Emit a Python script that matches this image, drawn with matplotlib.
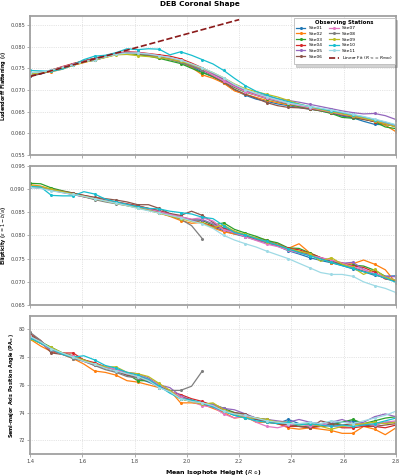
import numpy as np
import matplotlib
matplotlib.use("Agg")
import matplotlib.pyplot as plt

# ---------------- data ----------------
heights = [1.400, 1.441, 1.482, 1.524, 1.565, 1.606, 1.647, 1.688, 1.729, 1.771,
           1.812, 1.853, 1.894, 1.935, 1.976, 2.018, 2.059, 2.100, 2.141, 2.182,
           2.224, 2.265, 2.306, 2.347, 2.388, 2.429, 2.471, 2.512, 2.553, 2.594,
           2.635, 2.676, 2.718, 2.759, 2.800]

sites = ["Site01", "Site02", "Site03", "Site04", "Site05", "Site06",
         "Site07", "Site08", "Site09", "Site10", "Site11"]

flattening = {
    "Site01": [.0733,.0737,.0744,.0751,.0758,.0765,.0768,.0776,.0782,.0787,.0785,.0782,.0776,.0771,.0764,.0753,.0742,.0730,.0716,.0700,.0688,.0679,.0674,.0668,.0664,.0660,.0656,.0652,.0647,.0640,.0636,.0628,.0621,.0620,.0618],
    "Site02": [.0740,.0741,.0742,.0748,.0757,.0763,.0770,.0775,.0782,.0784,.0782,.0779,.0774,.0771,.0766,.0752,.0735,.0727,.0716,.0698,.0690,.0683,.0676,.0671,.0666,.0662,.0657,.0652,.0650,.0645,.0640,.0636,.0628,.0619,.0604],
    "Site03": [.0736,.0739,.0746,.0753,.0760,.0767,.0772,.0778,.0784,.0785,.0782,.0778,.0773,.0767,.0761,.0750,.0740,.0731,.0719,.0706,.0695,.0688,.0680,.0674,.0668,.0662,.0657,.0652,.0646,.0637,.0635,.0633,.0627,.0615,.0611],
    "Site04": [.0734,.0738,.0746,.0754,.0761,.0767,.0773,.0779,.0785,.0788,.0787,.0784,.0781,.0778,.0772,.0762,.0751,.0738,.0725,.0709,.0697,.0689,.0682,.0676,.0670,.0665,.0660,.0655,.0650,.0645,.0639,.0634,.0627,.0623,.0615],
    "Site05": [.0735,.0739,.0745,.0752,.0759,.0766,.0772,.0778,.0783,.0786,.0785,.0782,.0778,.0773,.0767,.0758,.0749,.0737,.0724,.0710,.0699,.0692,.0686,.0680,.0676,.0672,.0667,.0662,.0657,.0652,.0648,.0645,.0646,.0641,.0632],
    "Site06": [.0732,.0737,.0745,.0752,.0760,.0767,.0773,.0779,.0784,.0787,.0784,.0780,.0776,.0771,.0765,.0755,.0746,.0733,.0718,.0702,.0690,.0681,.0671,.0664,.0660,.0659,.0656,.0653,.0648,.0642,.0638,.0632,.0628,.0622,.0616],
    "Site07": [.0738,.0741,.0745,.0753,.0759,.0766,.0771,.0777,.0784,.0787,.0786,.0783,.0779,.0774,.0768,.0759,.0748,.0734,.0721,.0708,.0696,.0688,.0681,.0675,.0669,.0664,.0659,.0654,.0649,.0644,.0640,.0635,.0629,.0624,.0617],
    "Site08": [.0736,.0740,.0745,.0751,.0758,.0765,.0770,.0776,.0782,.0786,.0784,.0781,.0776,.0770,.0764,.0755,.0746],
    "Site09": [.0737,.0740,.0744,.0750,.0757,.0764,.0769,.0775,.0781,.0782,.0779,.0777,.0775,.0771,.0766,.0759,.0750,.0740,.0728,.0714,.0703,.0696,.0690,.0684,.0676,.0668,.0661,.0655,.0650,.0645,.0640,.0635,.0629,.0622,.0615],
    "Site10": [.0745,.0744,.0743,.0748,.0758,.0770,.0778,.0780,.0786,.0795,.0793,.0795,.0794,.0781,.0788,.0780,.0770,.0760,.0745,.0727,.0710,.0697,.0688,.0680,.0673,.0667,.0662,.0657,.0652,.0648,.0643,.0638,.0632,.0626,.0619],
    "Site11": [.0740,.0741,.0746,.0752,.0758,.0765,.0770,.0776,.0782,.0785,.0785,.0783,.0779,.0775,.0769,.0760,.0751,.0740,.0728,.0713,.0701,.0692,.0684,.0677,.0670,.0666,.0662,.0658,.0654,.0649,.0644,.0639,.0633,.0627,.0620],
}

ellipticity = {
    "Site01": [.0905,.0903,.0898,.0893,.0889,.0885,.0880,.0876,.0871,.0866,.0861,.0857,.0852,.0846,.0840,.0832,.0827,.0818,.0810,.0803,.0797,.0790,.0784,.0777,.0767,.0760,.0752,.0746,.0741,.0735,.0728,.0722,.0714,.0712,.0713],
    "Site02": [.0909,.0906,.0899,.0894,.0890,.0884,.0878,.0874,.0869,.0865,.0860,.0855,.0848,.0841,.0832,.0826,.0828,.0816,.0808,.0803,.0800,.0795,.0790,.0780,.0772,.0782,.0762,.0752,.0741,.0738,.0739,.0747,.0738,.0726,.0698],
    "Site03": [.0912,.0911,.0902,.0896,.0891,.0885,.0880,.0875,.0871,.0867,.0863,.0858,.0853,.0846,.0840,.0834,.0832,.0822,.0827,.0813,.0805,.0798,.0789,.0784,.0773,.0772,.0762,.0752,.0742,.0737,.0736,.0734,.0725,.0712,.0702],
    "Site04": [.0905,.0903,.0898,.0894,.0890,.0886,.0881,.0876,.0872,.0868,.0864,.0858,.0853,.0846,.0839,.0832,.0827,.0820,.0814,.0806,.0800,.0791,.0786,.0781,.0772,.0769,.0761,.0752,.0746,.0741,.0734,.0731,.0721,.0706,.0703],
    "Site05": [.0903,.0902,.0897,.0893,.0888,.0883,.0879,.0875,.0870,.0866,.0861,.0856,.0851,.0845,.0838,.0832,.0834,.0825,.0813,.0805,.0798,.0791,.0785,.0778,.0770,.0764,.0757,.0752,.0744,.0740,.0742,.0727,.0717,.0712,.0711],
    "Site06": [.0904,.0902,.0899,.0895,.0891,.0886,.0882,.0879,.0876,.0872,.0866,.0866,.0858,.0847,.0843,.0852,.0843,.0828,.0816,.0809,.0798,.0793,.0787,.0779,.0771,.0765,.0759,.0751,.0745,.0738,.0731,.0723,.0716,.0708,.0702],
    "Site07": [.0906,.0904,.0897,.0892,.0888,.0883,.0879,.0874,.0870,.0866,.0861,.0856,.0851,.0845,.0840,.0835,.0838,.0831,.0812,.0806,.0797,.0789,.0781,.0776,.0768,.0762,.0757,.0752,.0747,.0740,.0733,.0726,.0718,.0710,.0704],
    "Site08": [.0904,.0902,.0898,.0893,.0888,.0883,.0877,.0872,.0868,.0864,.0860,.0854,.0849,.0842,.0835,.0821,.0793],
    "Site09": [.0907,.0905,.0899,.0894,.0889,.0884,.0879,.0874,.0869,.0864,.0859,.0854,.0848,.0842,.0836,.0830,.0827,.0817,.0822,.0809,.0802,.0794,.0786,.0780,.0771,.0766,.0761,.0744,.0752,.0738,.0731,.0716,.0727,.0710,.0703],
    "Site10": [.0905,.0904,.0886,.0885,.0885,.0894,.0889,.0878,.0872,.0867,.0862,.0858,.0857,.0852,.0849,.0846,.0839,.0836,.0821,.0806,.0801,.0793,.0787,.0779,.0771,.0763,.0756,.0749,.0742,.0735,.0729,.0722,.0716,.0708,.0699],
    "Site11": [.0903,.0901,.0896,.0892,.0888,.0884,.0879,.0874,.0869,.0864,.0858,.0853,.0848,.0843,.0838,.0831,.0825,.0815,.0800,.0790,.0782,.0775,.0766,.0758,.0750,.0740,.0730,.0720,.0716,.0716,.0712,.0700,.0692,.0686,.0677],
}

position_angle = {
    "Site01": [79.4,79.0,78.6,78.3,78.0,77.8,77.5,77.2,77.0,76.7,76.5,76.2,75.9,75.5,75.0,74.8,74.6,74.4,74.1,73.8,73.6,73.5,73.3,73.2,73.5,73.2,73.1,73.0,73.2,73.3,73.4,73.2,73.1,73.3,73.3],
    "Site02": [79.3,78.8,78.4,78.2,77.9,77.5,77.0,76.9,76.7,76.3,76.2,76.0,75.8,75.6,74.7,74.7,74.6,74.3,74.0,73.6,73.7,73.3,73.3,73.2,72.9,72.8,72.9,72.8,72.7,72.5,72.5,73.0,72.8,72.4,72.9],
    "Site03": [79.6,79.1,78.7,78.3,78.1,77.8,77.5,77.3,77.0,76.8,76.3,76.3,76.0,75.6,75.0,74.8,74.7,74.6,74.3,74.0,73.8,73.6,73.5,73.3,73.2,73.0,73.0,73.0,73.1,73.3,73.5,73.2,73.4,73.6,73.7],
    "Site04": [79.7,79.2,78.4,78.3,78.3,77.8,77.6,77.3,77.0,76.8,76.6,76.4,75.9,75.5,75.3,75.0,74.8,74.5,74.2,73.9,73.8,73.6,73.4,73.2,73.0,73.0,72.9,73.0,73.1,72.9,72.9,73.0,73.0,72.9,73.1],
    "Site05": [79.5,79.0,78.5,78.3,78.0,77.7,77.5,77.3,77.1,76.9,76.8,76.5,76.0,75.8,75.2,74.9,74.6,74.6,74.3,74.2,73.9,73.6,73.5,73.4,73.3,73.5,73.3,73.2,73.3,73.5,73.2,73.3,73.7,73.9,73.7],
    "Site06": [79.6,79.1,78.3,78.2,78.0,77.8,77.4,77.2,77.0,76.7,76.5,76.3,75.9,75.5,75.1,74.9,74.6,74.4,74.1,74.0,73.9,73.5,73.4,73.2,73.1,73.0,72.9,73.4,73.2,73.1,73.2,73.1,73.0,73.1,73.2],
    "Site07": [79.5,79.0,78.5,78.2,78.1,77.7,77.4,77.3,77.1,76.8,76.8,76.4,76.0,75.6,75.1,74.8,74.5,74.4,73.9,73.6,73.8,73.3,73.0,72.9,73.1,73.2,73.0,73.2,73.0,73.0,73.1,73.2,73.1,73.3,73.4],
    "Site08": [79.8,79.2,78.5,78.2,77.9,77.7,77.4,77.1,76.9,76.6,76.5,76.3,75.8,75.6,75.6,75.9,77.0],
    "Site09": [79.3,79.0,78.7,78.3,78.0,77.8,77.5,77.3,77.3,76.9,76.8,76.6,76.1,75.6,75.0,74.8,74.6,74.7,74.2,73.9,73.6,73.6,73.5,73.3,73.3,73.1,73.2,73.0,72.8,73.0,73.1,73.2,73.3,73.2,73.3],
    "Site10": [79.4,79.0,78.6,78.2,78.0,78.1,77.8,77.4,77.2,76.9,76.7,76.4,75.9,75.4,75.0,74.9,74.7,74.4,74.1,73.8,73.6,73.4,73.3,73.2,73.3,73.1,73.2,73.1,73.0,73.1,73.0,73.1,73.2,73.4,73.6],
    "Site11": [79.5,79.1,78.6,78.3,78.0,77.7,77.5,77.2,77.0,76.8,76.6,76.3,75.8,75.5,75.0,74.8,74.7,74.5,74.1,73.9,73.8,73.6,73.4,73.3,73.2,73.2,73.3,73.2,73.4,73.3,73.2,73.4,73.6,73.8,74.1],
}

# linear fit to the flattening (R <= R_max), drawn over this height range
fit_slope = 0.01638
fit_intercept = 0.05017
fit_range = [1.4, 2.2]

colors = ["#1f77b4", "#ff7f0e", "#2ca02c", "#d62728", "#9467bd", "#8c564b",
          "#e377c2", "#7f7f7f", "#bcbd22", "#17becf", "#9edae5"]

# ---------------- plot ----------------
plt.rcParams["font.family"] = ["DejaVu Sans"]
plt.rcParams["mathtext.fontset"] = "dejavusans"
fig = plt.figure(figsize=(4.0, 4.76), dpi=100)

left, width = 0.075, 0.915
boxes = [(left, 0.674, width, 0.292),
         (left, 0.359, width, 0.293),
         (left, 0.046, width, 0.291)]
axes = [fig.add_axes(b) for b in boxes]

panels = [
    (flattening, r"Ludendorff Flattening ($\varepsilon$)", (0.055, 0.087),
     [0.055, 0.060, 0.065, 0.070, 0.075, 0.080, 0.085], "{:.3f}"),
    (ellipticity, r"Ellipticity ($\varepsilon = 1 - b/a$)", (0.065, 0.095),
     [0.065, 0.070, 0.075, 0.080, 0.085, 0.090, 0.095], "{:.3f}"),
    (position_angle, r"Semi-major Axis Position Angle (PA$_\odot$)", (71, 81),
     [72, 74, 76, 78, 80], "{:.0f}"),
]

fs = 3.7
spine_col = "#a0a0a0"
for ax, (data, ylabel, ylim, yticks, fmt) in zip(axes, panels):
    for s, c in zip(sites, colors):
        y = data[s]
        ax.plot(heights[:len(y)], y, color=c, lw=0.9, marker="o", ms=1.2,
                markevery=2, label=s)
    ax.set_xlim(1.4, 2.8)
    ax.set_ylim(*ylim)
    ax.set_yticks(yticks)
    ax.set_yticklabels([fmt.format(v) for v in yticks])
    ax.set_xticks([1.4, 1.6, 1.8, 2.0, 2.2, 2.4, 2.6, 2.8])
    ax.grid(True, ls=":", lw=0.5, color="#cccccc")
    ax.set_ylabel(ylabel, fontsize=3.5, fontweight="bold", labelpad=1.5)
    ax.tick_params(labelsize=fs, length=2, width=0.6, color=spine_col, pad=1.5,
                   labelcolor="#444444")
    for sp in ax.spines.values():
        sp.set_color(spine_col)
        sp.set_linewidth(1.3)

fx = np.array(fit_range)
axes[0].plot(fx, fit_slope * fx + fit_intercept, color="#8b1a1a", ls="--",
             lw=1.2, label=r"Linear Fit ($R <= R_{max}$)")

for ax in axes[:2]:
    ax.tick_params(labelbottom=False)
axes[2].set_xticklabels(["1.4", "1.6", "1.8", "2.0", "2.2", "2.4", "2.6", "2.8"])
axes[2].set_xlabel(r"Mean Isophote Height ($R_\odot$)", fontsize=4.5,
                   fontweight="bold", labelpad=3)

leg = axes[0].legend(loc="upper right", ncol=2, fontsize=3.2,
                     title="Observing Stations", title_fontsize=3.9,
                     frameon=True, fancybox=False,
                     shadow={"alpha": 0.25},
                     handlelength=2.2, columnspacing=1.3, labelspacing=0.35,
                     borderpad=0.45, framealpha=1, edgecolor="#bbbbbb",
                     borderaxespad=0.3)
leg.get_title().set_fontweight("bold")
leg.get_frame().set_linewidth(0.6)

fig.suptitle("DEB Coronal Shape", fontsize=5.3, fontweight="bold", y=0.998)

fig.savefig("out.png", dpi=100)
